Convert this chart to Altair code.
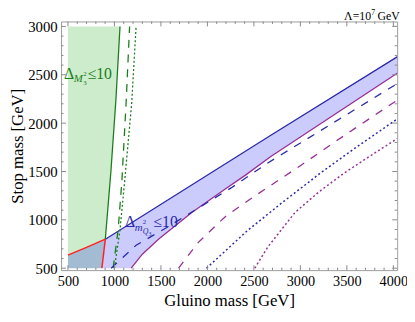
import altair as alt
import pandas as pd

# ---- data ----
x_ticks = [500, 1000, 1500, 2000, 2500, 3000, 3500, 4000]
y_ticks = [500, 1000, 1500, 2000, 2500, 3000]

green_solid_x = [902, 962, 1015, 1060]
green_solid_y = [800, 1500, 2228, 3000]
green_dash_x = [986, 1040, 1080, 1125, 1163]
green_dash_y = [500, 900, 1400, 2200, 3000]
green_dot_x = [1000, 1060, 1110, 1185, 1233]
green_dot_y = [500, 900, 1400, 2200, 3000]

red_curve_x = [500, 700, 902]
red_curve_y = [635, 715, 800]
red_vert_x = [865, 902]
red_vert_y = [500, 800]

blue_solid_x = [902, 2678, 4045]
blue_solid_y = [800, 1872, 2688]
purple_solid_x = [1180, 1300, 1480, 1832, 2184, 2413, 2678, 4045]
purple_solid_y = [500, 645, 805, 1076, 1313, 1465, 1652, 2518]

blue_dash_x = [965, 1233, 1568, 1900, 2255, 2643, 3964, 4045]
blue_dash_y = [500, 737, 924, 1120, 1330, 1584, 2363, 2410]
purple_dash_x = [1690, 1900, 2200, 2500, 3000, 3500, 4045]
purple_dash_y = [500, 765, 1040, 1240, 1560, 1890, 2240]
blue_dot_x = [1990, 2184, 2431, 2800, 3224, 3600, 4045]
blue_dot_y = [500, 670, 889, 1175, 1490, 1750, 2045]
purple_dot_x = [2510, 2650, 2942, 3200, 3470, 3750, 4045]
purple_dot_y = [500, 720, 1076, 1290, 1483, 1660, 1842]

XDOM = [426, 4041]
YDOM = [480, 3051]
W, H = 342, 253
SERIF = "Liberation Serif"

xs = alt.Scale(domain=XDOM, nice=False, zero=False)
ys = alt.Scale(domain=YDOM, nice=False, zero=False)

GREEN = "#1a7d1a"
BLUE = "#2a2aa8"
PURPLE = "#952f95"
RED = "#ff2020"


def df_xy(x, y):
    return pd.DataFrame({"x": x, "y": y, "i": list(range(len(x)))})


def line(x, y, color, dash=None, width=1.3):
    kw = dict(color=color, strokeWidth=width, clip=True)
    if dash:
        kw["strokeDash"] = dash
    return alt.Chart(df_xy(x, y)).mark_line(**kw).encode(
        x=alt.X("x:Q", scale=xs), y=alt.Y("y:Q", scale=ys), order="i:Q")


# green region (horizontal area, left edge at 500)
g_y = red_vert_y[:1] + green_solid_y
g_x = red_vert_x[:1] + green_solid_x
green_df = pd.DataFrame({"y": g_y, "x": g_x, "x0": [500] * len(g_y)})
green_area = alt.Chart(green_df).mark_area(
    orient="horizontal", color="#00a000", opacity=0.2).encode(
    y=alt.Y("y:Q", scale=ys), x=alt.X("x0:Q", scale=xs), x2="x:Q")

# blue region: top boundary down to 500, then white mask under purple curve
b_x = red_curve_x + blue_solid_x[1:]
b_y = red_curve_y + blue_solid_y[1:]
blue_df = pd.DataFrame({"x": b_x, "y": b_y, "y0": [500] * len(b_x)})
blue_area = alt.Chart(blue_df).mark_area(color="#0000f0", opacity=0.2, clip=True).encode(
    x=alt.X("x:Q", scale=xs), y=alt.Y("y:Q", scale=ys), y2="y0:Q")
mask_df = pd.DataFrame({"x": purple_solid_x, "y": purple_solid_y,
                        "y0": [500] * len(purple_solid_x)})
mask = alt.Chart(mask_df).mark_area(color="white", opacity=1, clip=True).encode(
    x=alt.X("x:Q", scale=xs), y=alt.Y("y:Q", scale=ys), y2="y0:Q")

lines = [
    line(blue_solid_x, blue_solid_y, BLUE),
    line(purple_solid_x, purple_solid_y, PURPLE),
    line(red_curve_x, red_curve_y, RED, width=1.5),
    line(red_vert_x, red_vert_y, RED, width=1.5),
    line(green_solid_x, green_solid_y, GREEN),
    line(green_dash_x, green_dash_y, GREEN, [8, 7]),
    line(green_dot_x, green_dot_y, GREEN, [2, 2.2]),
    line(blue_dash_x, blue_dash_y, BLUE, [8, 8]),
    line(purple_dash_x, purple_dash_y, PURPLE, [8, 8]),
    line(blue_dot_x, blue_dot_y, BLUE, [2, 2.5], 1.5),
    line(purple_dot_x, purple_dot_y, PURPLE, [2, 2.5], 1.5),
]

# ---- text annotations ----
def piece(ax, ay, text, color, size, dx, dy, style="normal"):
    d = pd.DataFrame({"x": [ax], "y": [ay], "t": [text]})
    return alt.Chart(d).mark_text(
        align="left", baseline="alphabetic", font=SERIF, fontSize=size,
        fontStyle=style, color=color, dx=dx, dy=dy).encode(
        x=alt.X("x:Q", scale=xs), y=alt.Y("y:Q", scale=ys), text="t:N")


ga = (458, 2461)
green_label = [
    piece(*ga, "Δ", GREEN, 16, 0, 0),
    piece(*ga, "M", GREEN, 11, 10, 4, "italic"),
    piece(*ga, "3", GREEN, 7, 19.5, 7),
    piece(*ga, "2", GREEN, 7, 19.5, -3),
    piece(*ga, "≤10", GREEN, 16, 24, 0),
]
ba = (1113, 927)
blue_label = [
    piece(*ba, "Δ", BLUE, 16, 0, 0),
    piece(*ba, "m", BLUE, 11, 10, 4, "italic"),
    piece(*ba, "2", BLUE, 7, 18, -3),
    piece(*ba, "Q", BLUE, 8, 18, 7, "italic"),
    piece(*ba, "3", BLUE, 6, 24, 9),
    piece(*ba, "≤10", BLUE, 16, 29, 0),
]


def ptext(px, py, text, size):
    d = pd.DataFrame({"t": [text]})
    return alt.Chart(d).mark_text(
        align="left", baseline="alphabetic", font=SERIF, fontSize=size,
        color="black").encode(x=alt.value(px), y=alt.value(py), text="t:N")


lam = [ptext(288, -2, "Λ=10", 12), ptext(315.5, -6.5, "7", 8), ptext(322, -2, "GeV", 12)]

# ---- inward frame ticks ----
x_minor = [v for v in range(500, 4001, 100) if v % 500 != 0]
y_minor = [v for v in range(500, 3001, 100) if v % 500 != 0]
TC = "#8a8a8a"


def xticks(vals, ln):
    d = pd.DataFrame({"v": vals})
    b = alt.Chart(d).mark_rule(color=TC, strokeWidth=1).encode(
        x=alt.X("v:Q", scale=xs), y=alt.value(H), y2=alt.value(H - ln))
    t = alt.Chart(d).mark_rule(color=TC, strokeWidth=1).encode(
        x=alt.X("v:Q", scale=xs), y=alt.value(0), y2=alt.value(ln))
    return [b, t]


def yticks(vals, ln):
    d = pd.DataFrame({"v": vals})
    l = alt.Chart(d).mark_rule(color=TC, strokeWidth=1).encode(
        y=alt.Y("v:Q", scale=ys), x=alt.value(0), x2=alt.value(ln))
    r = alt.Chart(d).mark_rule(color=TC, strokeWidth=1).encode(
        y=alt.Y("v:Q", scale=ys), x=alt.value(W), x2=alt.value(W - ln))
    return [l, r]


ticks = xticks(x_ticks, 5) + xticks(x_minor, 2.5) + yticks(y_ticks, 5) + yticks(y_minor, 2.5)

# axes carried by an invisible layer
axis_df = pd.DataFrame({"x": [XDOM[0]], "y": [YDOM[0]]})
axes = alt.Chart(axis_df).mark_point(opacity=0).encode(
    x=alt.X("x:Q", scale=xs, axis=alt.Axis(
        values=x_ticks, format="d", ticks=False, domain=False, grid=False,
        labelFont=SERIF, labelFontSize=14.5, labelColor="black", labelPadding=5,
        labelFlush=False, labelOverlap=False, title="Gluino mass [GeV]",
        titleFont=SERIF, titleFontSize=17, titleFontWeight="normal",
        titleColor="black", titleBaseline="alphabetic", titleY=36)),
    y=alt.Y("y:Q", scale=ys, axis=alt.Axis(
        values=y_ticks, format="d", ticks=False, domain=False, grid=False,
        labelFont=SERIF, labelFontSize=15, labelColor="black", labelPadding=4,
        labelFlush=False, labelOverlap=False, title="Stop mass [GeV]",
        titleFont=SERIF, titleFontSize=17, titleFontWeight="normal",
        titleColor="black", titleBaseline="alphabetic", titleX=-39)),
)

chart = alt.layer(
    axes, green_area, blue_area, mask, *lines, *green_label, *blue_label, *lam, *ticks
).properties(
    width=W, height=H, autosize=alt.AutoSizeParams(type="none"),
    padding={"left": 54, "top": 11, "right": 10, "bottom": 46},
    background="white",
).configure_view(stroke="#9a9a9a", strokeWidth=1)

chart.save("out.html", embed_options={"renderer": "svg", "actions": False})
